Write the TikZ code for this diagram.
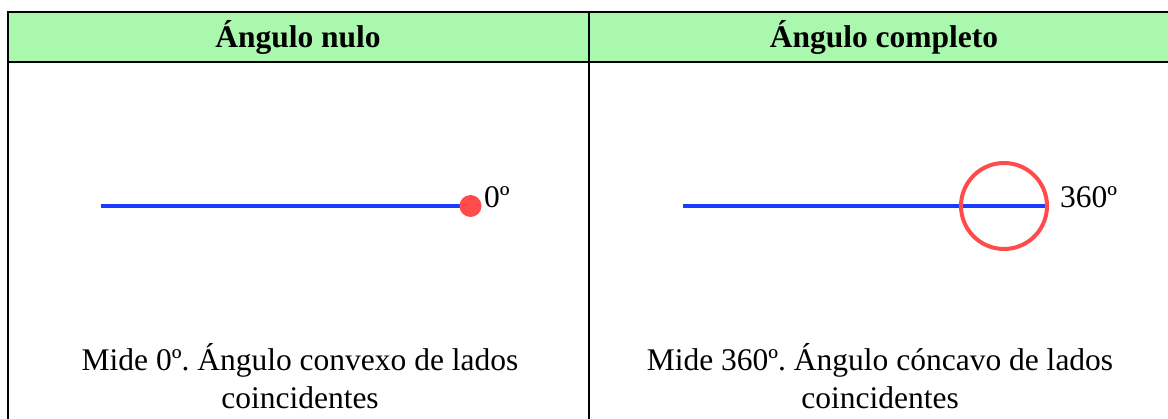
\documentclass[tikz,border=0pt]{standalone}
\usepackage{fontspec}
\setmainfont{Liberation Serif}
\frenchspacing
\definecolor{hdrgreen}{RGB}{170,248,174}
\definecolor{lineblue}{RGB}{25,60,255}
\definecolor{dotred}{RGB}{255,75,75}
\begin{document}
\begin{tikzpicture}[x=1pt,y=-1pt,
  border/.style={line width=2pt,black},
  ray/.style={line width=4pt,lineblue},
  hdr/.style={font=\fontsize{31.5}{38}\selectfont\bfseries,anchor=base,inner sep=0pt},
  body/.style={font=\fontsize{31.5}{38}\selectfont,align=center,anchor=base,inner sep=0pt},
  lbl/.style={font=\fontsize{31.5}{38}\selectfont,anchor=base west,inner sep=0pt}]
\useasboundingbox (0,0) rectangle (1168,419);
% header fill
\fill[hdrgreen] (7.5,12.5) rectangle (1168,62);
% borders
\draw[border] (7.5,419) -- (7.5,12.5) -- (1168,12.5);
\draw[border] (7.5,62) -- (1168,62);
\draw[border] (588.5,12.5) -- (588.5,419);
% headers
\node[hdr] (h1) at (298,48) {Ángulo nulo};
\node[hdr] (h2) at (884,48) {Ángulo completo};
% left figure
\coordinate (a1) at (101,206);
\coordinate (v1) at (470.5,206);
\draw[ray] (a1) -- (v1);
\fill[dotred] (v1) circle[radius=11];
\node[lbl] (l1) at (484,208) {0º};
% right figure
\coordinate (a2) at (683,206);
\coordinate (v2) at (1047,206);
\coordinate (c2) at (1004,206);
\draw[ray] (a2) -- (v2);
\draw[dotred,line width=4pt] (c2) circle[radius=43];
\node[lbl] (l2) at (1060,208) {360º};
% body texts
\node[body] (t1) at (300,409) {Mide 0º. Ángulo convexo de lados\\coincidentes};
\node[body] (t2) at (880,409) {Mide 360º. Ángulo cóncavo de lados\\coincidentes};
\end{tikzpicture}
\end{document}
